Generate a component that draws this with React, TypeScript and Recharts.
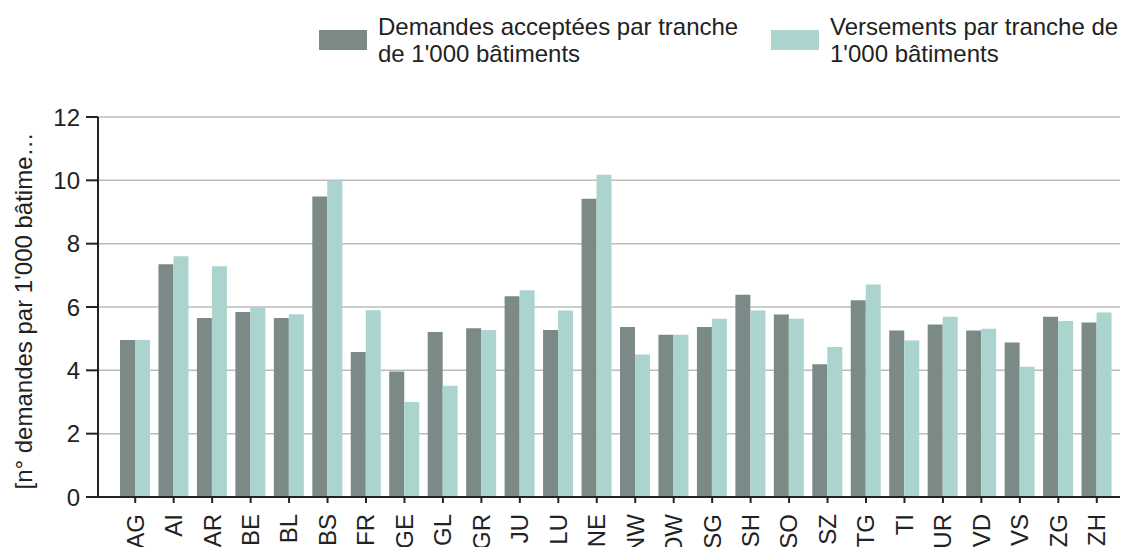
import React from "react";
import { BarChart, Bar, XAxis, YAxis, CartesianGrid, Legend } from "recharts";

const cantons = [
  "AG", "AI", "AR", "BE", "BL", "BS", "FR", "GE", "GL", "GR", "JU", "LU", "NE",
  "NW", "OW", "SG", "SH", "SO", "SZ", "TG", "TI", "UR", "VD", "VS", "ZG", "ZH",
];
const demandes = [
  4.96, 7.35, 5.65, 5.84, 5.65, 9.49, 4.58, 3.96, 5.21, 5.33, 6.34, 5.27, 9.42,
  5.37, 5.12, 5.37, 6.39, 5.76, 4.19, 6.21, 5.26, 5.45, 5.26, 4.88, 5.69, 5.51,
];
const versements = [
  4.96, 7.6, 7.29, 6.0, 5.77, 9.99, 5.9, 3.0, 3.51, 5.27, 6.53, 5.89, 10.18,
  4.5, 5.12, 5.63, 5.89, 5.63, 4.74, 6.71, 4.94, 5.69, 5.31, 4.11, 5.56, 5.83,
];
const yTicks = [0, 2, 4, 6, 8, 10, 12];

const SERIES = [
  { key: "demandes", name: "Demandes acceptées par tranche de 1'000 bâtiments", lines: ["Demandes acceptées par tranche", "de 1'000 bâtiments"], color: "#7b8a87" },
  { key: "versements", name: "Versements par tranche de 1'000 bâtiments", lines: ["Versements par tranche de", "1'000 bâtiments"], color: "#acd4ce" },
];

const FONT = "'Liberation Sans', Arial, sans-serif";
const INK = "#222";

const data = cantons.map((c, i) => ({ canton: c, demandes: demandes[i], versements: versements[i] }));

const LegendContent = () => (
  <div style={{ position: "relative", height: 70, fontFamily: FONT, fontSize: 24, color: INK }}>
    {SERIES.map((s, i) => (
      <div key={s.key} style={{ position: "absolute", left: i === 0 ? 319 : 771, top: 13, display: "flex", alignItems: "center" }}>
        <div style={{ width: 48, height: 20, background: s.color, marginRight: 11 }} />
        <div style={{ lineHeight: "27px", whiteSpace: "nowrap" }}>
          {s.lines.map((l) => <div key={l}>{l}</div>)}
        </div>
      </div>
    ))}
  </div>
);

const XTick = ({ x, y, payload }: any) => (
  <text x={x} y={y + 9} dy="0.35em" transform={`rotate(-90 ${x} ${y + 9})`} textAnchor="end"
    fill={INK} fontSize={24} fontFamily={FONT}>
    {payload.value}
  </text>
);

const YLabel = ({ viewBox }: any) => {
  const cx = viewBox.x + 23;
  const cy = viewBox.y + viewBox.height / 2 + 4;
  return (
    <text x={cx} y={cy} transform={`rotate(-90 ${cx} ${cy})`} textAnchor="middle" dominantBaseline="central"
      fill={INK} fontSize={24} fontFamily={FONT}>
      [n° demandes par 1'000 bâtime…
    </text>
  );
};

export default function App() {
  return (
    <div style={{ position: "absolute", left: 0, top: 0, background: "#fff" }}>
      <BarChart width={1127} height={547} data={data} barGap={0} barSize={15}
        margin={{ top: 117, right: 7, bottom: 0, left: 0 }}>
        <CartesianGrid vertical={false} stroke="#bcbcbc" strokeWidth={1.5} />
        <XAxis dataKey="canton" interval={0} height={50} padding={{ left: 18, right: 4 }}
          axisLine={{ stroke: INK, strokeWidth: 2 }} tickLine={{ stroke: INK, strokeWidth: 2 }}
          tickSize={6} tick={<XTick />} />
        <YAxis domain={[0, 12]} ticks={yTicks} width={98} tickSize={12} tickMargin={6}
          axisLine={{ stroke: INK, strokeWidth: 2 }} tickLine={{ stroke: INK, strokeWidth: 2 }}
          tick={{ fill: INK, fontSize: 24, fontFamily: FONT }}
          label={{ content: <YLabel /> }} />
        <Legend layout="horizontal" verticalAlign="middle" align="center"
          wrapperStyle={{ left: 0, top: 0, width: 1127 }} content={<LegendContent />} />
        {SERIES.map((s) => (
          <Bar key={s.key} dataKey={s.key} name={s.name} fill={s.color} isAnimationActive={false} />
        ))}
      </BarChart>
    </div>
  );
}
